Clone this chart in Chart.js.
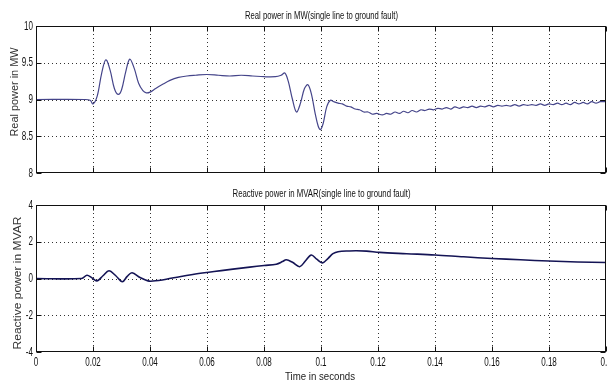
<!DOCTYPE html>
<html><head><meta charset="utf-8">
<script src="https://cdn.jsdelivr.net/npm/chart.js@4/dist/chart.umd.min.js"></script>
<style>
html,body{margin:0;padding:0;background:#fff;width:607px;height:383px;overflow:hidden}
#w1{position:absolute;left:0;top:0;width:607px;height:185px}
#w2{position:absolute;left:0;top:185px;width:607px;height:198px}
</style></head><body>
<div id="w1"><canvas id="c1"></canvas></div>
<div id="w2"><canvas id="c2"></canvas></div>
<script>
// ---- data ----
const timeTicks = [0, 0.02, 0.04, 0.06, 0.08, 0.1, 0.12, 0.14, 0.16, 0.18, 0.2];
const timeTickLabels = ['0', '0.02', '0.04', '0.06', '0.08', '0.1', '0.12', '0.14', '0.16', '0.18', '0.2'];
const realTicks = [8, 8.5, 9, 9.5, 10];
const realTickLabels = ['8', '8.5', '9', '9.5', '10'];
const reactTicks = [-4, -2, 0, 2, 4];
const reactTickLabels = ['-4', '-2', '0', '2', '4'];

const realTime = [0, 0.017, 0.019, 0.0200, 0.0215, 0.0230, 0.0245, 0.0260, 0.0275, 0.0288, 0.0300, 0.0315, 0.0329, 0.0345,
  0.0360, 0.0375, 0.0387, 0.0400, 0.0420, 0.0446, 0.0470, 0.0500, 0.0530, 0.0560, 0.0600, 0.0640, 0.0680, 0.0720,
  0.0760, 0.0800, 0.0840, 0.0860, 0.0873, 0.0885, 0.0900, 0.0914, 0.0928, 0.0942, 0.0954, 0.0966, 0.0980, 0.0990,
  0.0998, 0.1008, 0.1020, 0.1033, 0.1045, 0.1060, 0.1075, 0.1090, 0.1105, 0.1120, 0.1135, 0.1150, 0.1165, 0.1180,
  0.1195, 0.1215, 0.1230, 0.1245, 0.1260, 0.1275, 0.1290, 0.1305, 0.1320, 0.1335, 0.1350, 0.1365, 0.1380, 0.1395,
  0.1410, 0.1425, 0.1440, 0.1455, 0.1470, 0.1485, 0.1500, 0.1515, 0.1530, 0.1545, 0.1560, 0.1575, 0.1590, 0.1605,
  0.1620, 0.1635, 0.1650, 0.1665, 0.1680, 0.1695, 0.1710, 0.1725, 0.1740, 0.1755, 0.1770, 0.1785, 0.1800, 0.1815,
  0.1830, 0.1845, 0.1860, 0.1875, 0.1890, 0.1905, 0.1920, 0.1935, 0.1950, 0.1965, 0.1980, 0.2000];
const realMW = [9.00, 9.00, 8.99, 8.94, 9.05, 9.35, 9.54, 9.40, 9.15, 9.07, 9.13, 9.38, 9.55, 9.42,
  9.22, 9.12, 9.09, 9.10, 9.15, 9.21, 9.26, 9.30, 9.32, 9.33, 9.34, 9.33, 9.32, 9.33,
  9.32, 9.31, 9.31, 9.33, 9.36, 9.25, 9.00, 8.83, 8.95, 9.15, 9.20, 9.08, 8.80, 8.64,
  8.59, 8.68, 8.90, 8.99, 8.97, 8.95, 8.94, 8.91, 8.90, 8.87, 8.86, 8.83, 8.83, 8.80,
  8.81, 8.79, 8.81, 8.80, 8.83, 8.81, 8.84, 8.82, 8.85, 8.83, 8.86, 8.85, 8.87, 8.86,
  8.88, 8.87, 8.89, 8.87, 8.90, 8.88, 8.90, 8.89, 8.91, 8.89, 8.91, 8.90, 8.92, 8.90,
  8.92, 8.91, 8.92, 8.91, 8.93, 8.91, 8.93, 8.92, 8.93, 8.92, 8.94, 8.92, 8.94, 8.93,
  8.95, 8.93, 8.95, 8.93, 8.96, 8.94, 8.96, 8.94, 8.97, 8.95, 8.97, 8.97];

const reactTime = [0, 0.016, 0.0179, 0.0195, 0.0214, 0.0235, 0.0256, 0.0280, 0.0303, 0.0320, 0.0337, 0.0365, 0.0393,
  0.0410, 0.0457, 0.0504, 0.0550, 0.0600, 0.0650, 0.0691, 0.0750, 0.0800, 0.0843, 0.0865, 0.0878, 0.0900, 0.0925,
  0.0945, 0.0966, 0.0985, 0.1005, 0.1025, 0.1042, 0.1060, 0.1100, 0.1124, 0.1160, 0.1206, 0.1300, 0.1400, 0.1500,
  0.1600, 0.1700, 0.1800, 0.1900, 0.2000];
const reactMVAR = [0.00, 0.00, 0.18, 0.05, -0.13, 0.15, 0.42, 0.15, -0.18, 0.12, 0.31, 0.05, -0.13,
  -0.14, -0.04, 0.10, 0.22, 0.33, 0.43, 0.51, 0.62, 0.71, 0.78, 0.92, 1.02, 0.88, 0.64,
  0.95, 1.28, 1.05, 0.85, 1.10, 1.35, 1.46, 1.50, 1.51, 1.49, 1.42, 1.35, 1.28, 1.18,
  1.09, 1.02, 0.95, 0.90, 0.87];

// ---- drawing helpers ----
function fitText(ctx, text, cx, cy, w, font, rot, color) {
  ctx.save();
  ctx.font = font;
  const m = ctx.measureText(text).width;
  ctx.translate(cx, cy);
  if (rot) ctx.rotate(-Math.PI / 2);
  ctx.scale(w / m, 1);
  ctx.textAlign = 'center';
  ctx.textBaseline = 'middle';
  ctx.fillStyle = color || '#111';
  ctx.fillText(text, 0, 0);
  ctx.restore();
}
function condText(ctx, text, x, y, align) {
  ctx.save();
  ctx.font = '13px "Liberation Sans", Arial, sans-serif';
  ctx.translate(x, y);
  ctx.scale(0.62, 1);
  ctx.textAlign = align;
  ctx.textBaseline = 'middle';
  ctx.fillStyle = '#111';
  ctx.fillText(text, 0, 0);
  ctx.restore();
}

function framePlugin(cfg) {
  return {
    id: 'frame' + cfg.id,
    beforeDatasetsDraw(chart) {
      const ctx = chart.ctx, a = chart.chartArea, xs = chart.scales.x, ys = chart.scales.y;
      ctx.save();
      ctx.strokeStyle = '#333';
      ctx.lineWidth = 1;
      ctx.setLineDash([1, 3]);
      timeTicks.forEach(v => {
        if (v <= 0 || v >= 0.2) return;
        const px = Math.round(xs.getPixelForValue(v)) + 0.5;
        ctx.beginPath(); ctx.moveTo(px, a.top); ctx.lineTo(px, a.bottom); ctx.stroke();
      });
      cfg.yTicks.forEach((v, i) => {
        if (i === 0 || i === cfg.yTicks.length - 1) return;
        const py = Math.round(ys.getPixelForValue(v)) + 0.5;
        ctx.beginPath(); ctx.moveTo(a.left, py); ctx.lineTo(a.right, py); ctx.stroke();
      });
      ctx.restore();
    },
    afterDatasetsDraw(chart) {
      const ctx = chart.ctx, a = chart.chartArea, xs = chart.scales.x, ys = chart.scales.y;
      ctx.save();
      ctx.strokeStyle = '#111';
      ctx.lineWidth = 1;
      const L = Math.round(a.left) + 0.5, R = Math.round(a.right) - 0.5, T = Math.round(a.top) + 0.5, B = Math.round(a.bottom) - 0.5;
      ctx.strokeRect(L, T, R - L, B - T);
      ctx.beginPath();
      timeTicks.forEach(v => {
        const px = Math.round(xs.getPixelForValue(v)) + 0.5;
        ctx.moveTo(px, B); ctx.lineTo(px, B - 5);
        ctx.moveTo(px, T); ctx.lineTo(px, T + 5);
      });
      cfg.yTicks.forEach(v => {
        const py = Math.round(ys.getPixelForValue(v)) + 0.5;
        ctx.moveTo(L, py); ctx.lineTo(L + 5, py);
        ctx.moveTo(R, py); ctx.lineTo(R - 5, py);
      });
      ctx.stroke();
      ctx.restore();
      // tick labels
      cfg.yTicks.forEach((v, i) => condText(ctx, cfg.yLabels[i], 33, ys.getPixelForValue(v), 'right'));
      if (cfg.xLabels) {
        timeTicks.forEach((v, i) => condText(ctx, timeTickLabels[i], xs.getPixelForValue(v), a.bottom + 10, 'center'));
      }
      // titles and axis labels
      fitText(ctx, cfg.title, 321.5, cfg.titleY, cfg.titleW, '10px "Liberation Sans", Arial, sans-serif');
      fitText(ctx, cfg.yTitle, cfg.yTitleX, cfg.yTitleY, cfg.yTitleW, '10.5px "Liberation Sans", Arial, sans-serif', true, '#333');
      if (cfg.xTitle) fitText(ctx, cfg.xTitle, 320, cfg.xTitleY, 70, '11px "Liberation Sans", Arial, sans-serif', false, '#222');
    }
  };
}

function makeChart(id, xs, ys, cfg) {
  return new Chart(document.getElementById(id), {
    type: 'line',
    data: { datasets: [{ data: xs.map((x, i) => ({ x: x, y: ys[i] })), borderColor: cfg.color, borderWidth: cfg.width,
      pointRadius: 0, tension: 0.35, fill: false }] },
    options: {
      responsive: true, maintainAspectRatio: false, animation: false,
      layout: { padding: { top: cfg.padTop, right: 1, left: 0, bottom: 0 } },
      plugins: { legend: { display: false }, tooltip: { enabled: false } },
      scales: {
        x: { type: 'linear', min: 0, max: 0.2, ticks: { display: false }, grid: { display: false }, border: { display: false },
          afterFit: s => { s.height = cfg.xHeight; } },
        y: { type: 'linear', min: cfg.yTicks[0], max: cfg.yTicks[cfg.yTicks.length - 1], ticks: { display: false },
          grid: { display: false }, border: { display: false }, afterFit: s => { s.width = 36; } }
      }
    },
    plugins: [framePlugin(cfg)]
  });
}

makeChart('c1', realTime, realMW, {
  id: 1, color: '#45458a', width: 1.2, padTop: 26, xHeight: 12,
  yTicks: realTicks, yLabels: realTickLabels, xLabels: false,
  title: 'Real power in MW(single line to ground fault)', titleY: 16, titleW: 153,
  yTitle: 'Real power in MW', yTitleX: 15.5, yTitleY: 92, yTitleW: 89
});
makeChart('c2', reactTime, reactMVAR, {
  id: 2, color: '#141455', width: 1.6, padTop: 20, xHeight: 31,
  yTicks: reactTicks, yLabels: reactTickLabels, xLabels: true,
  title: 'Reactive power in MVAR(single line to ground fault)', titleY: 9, titleW: 178,
  yTitle: 'Reactive power in MVAR', yTitleX: 18, yTitleY: 98, yTitleW: 133,
  xTitle: 'Time in seconds', xTitleY: 192
});
</script>
</body></html>
